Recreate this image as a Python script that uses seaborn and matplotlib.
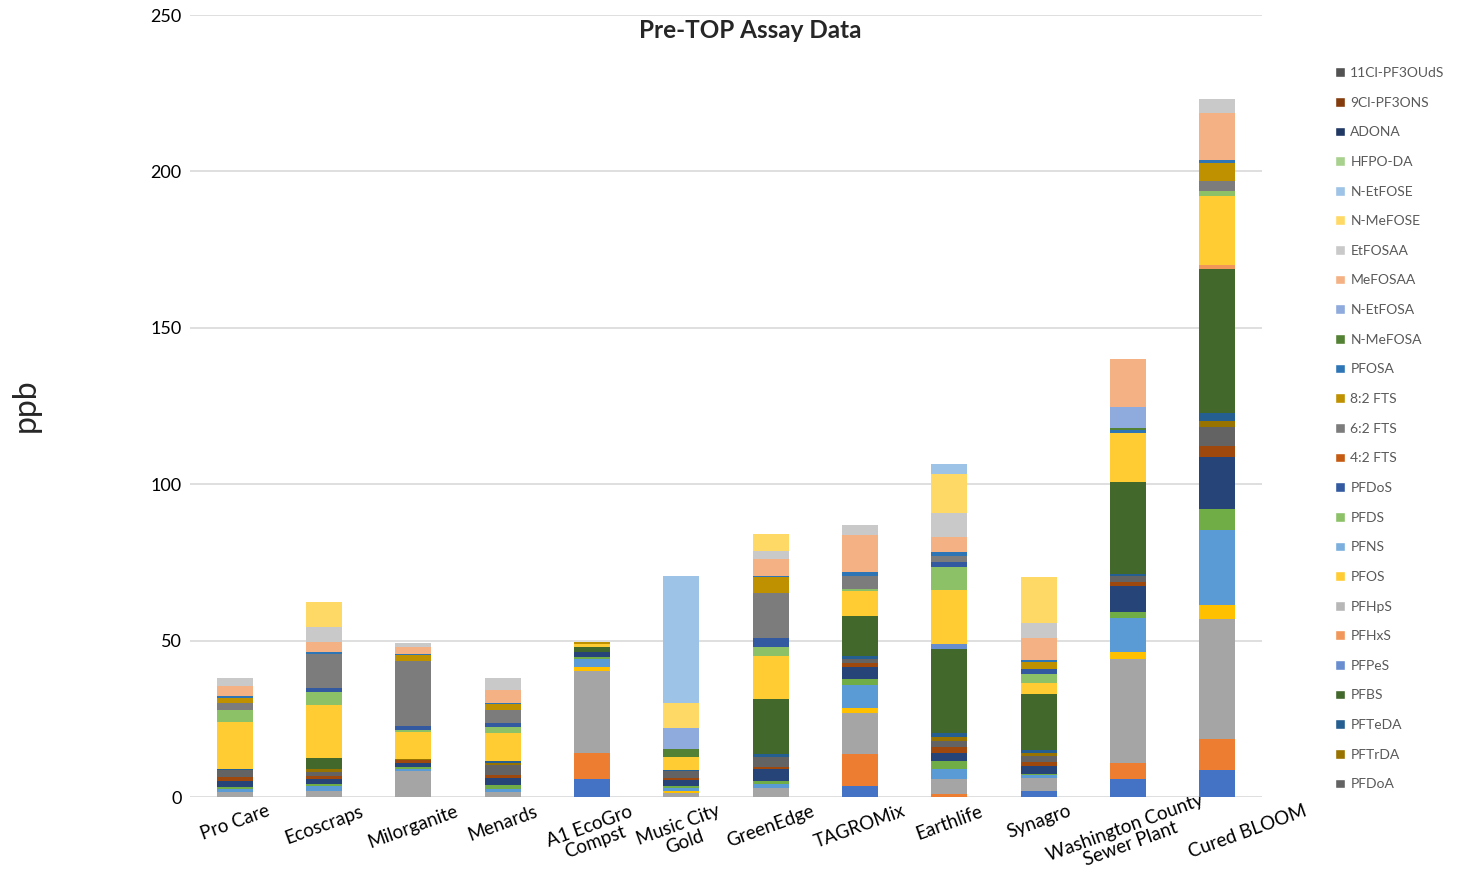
import pandas as pd
import seaborn as sns
import matplotlib.pyplot as plt
import matplotlib.transforms as mtransforms
from matplotlib.patches import Patch

# stacking order, bottom -> top (Excel series order)
compounds = ["PFBA", "PFPeA", "PFHxA", "PFHpA", "PFOA", "PFNA", "PFDA", "PFUnDA",
             "PFDoA", "PFTrDA", "PFTeDA", "PFBS", "PFPeS", "PFHxS", "PFHpS", "PFOS",
             "PFNS", "PFDS", "PFDoS", "4:2 FTS", "6:2 FTS", "8:2 FTS", "PFOSA",
             "N-MeFOSA", "N-EtFOSA", "MeFOSAA", "EtFOSAA", "N-MeFOSE", "N-EtFOSE",
             "HFPO-DA", "ADONA", "9Cl-PF3ONS", "11Cl-PF3OUdS"]

# excel office palette, cycled with shades
colors = ["#4472C4", "#ED7D31", "#A5A5A5", "#FFC000", "#5B9BD5", "#70AD47",
          "#264478", "#9E480E", "#636363", "#997300", "#255E91", "#43682B",
          "#698ED0", "#F1975A", "#B7B7B7", "#FFCD33", "#7CAFDD", "#8CC168",
          "#335AA1", "#C55A11", "#7C7C7C", "#BF9000", "#2E75B6", "#548235",
          "#8FAADC", "#F4B183", "#C9C9C9", "#FFD966", "#9DC3E6", "#A9D18E",
          "#203864", "#843C0C", "#525252"]

sites = ["Pro Care", "Ecoscraps", "Milorganite", "Menards", "A1 EcoGro\nCompst",
         "Music City\nGold", "GreenEdge", "TAGROMix", "Earthlife", "Synagro",
         "Washington County\nSewer Plant", "Cured BLOOM"]

# ppb values
pro_care = {"PFHxA": 1.5, "PFOA": 1.1, "PFNA": 0.6, "PFDA": 1.9, "PFUnDA": 1.3, "PFDoA": 2.1,
            "PFTeDA": 0.6, "PFOS": 14.9, "PFDS": 3.7, "6:2 FTS": 2.3, "8:2 FTS": 1.8,
            "PFOSA": 0.6, "MeFOSAA": 3.1, "EtFOSAA": 2.5}
ecoscraps = {"PFHxA": 1.9, "PFOA": 1.7, "PFNA": 0.6, "PFDA": 1.4, "PFUnDA": 1.0, "PFDoA": 1.5,
             "PFTrDA": 0.9, "PFBS": 3.5, "PFOS": 16.8, "PFDS": 4.3, "PFDoS": 1.4,
             "6:2 FTS": 10.8, "PFOSA": 0.7, "MeFOSAA": 3.2, "EtFOSAA": 4.6, "N-MeFOSE": 7.9}
milorganite = {"PFHxA": 8.3, "PFOA": 0.6, "PFNA": 0.6, "PFDA": 1.3, "PFUnDA": 0.9,
               "PFTrDA": 0.4, "PFOS": 8.7, "PFDS": 0.5, "PFDoS": 1.5, "6:2 FTS": 20.8,
               "8:2 FTS": 1.7, "PFOSA": 0.5, "MeFOSAA": 2.3, "EtFOSAA": 1.1}
menards = {"PFHxA": 1.7, "PFOA": 0.9, "PFNA": 1.2, "PFDA": 2.2, "PFUnDA": 1.1, "PFDoA": 3.0,
           "PFTrDA": 0.8, "PFTeDA": 0.7, "PFOS": 8.9, "PFDS": 1.8, "PFDoS": 1.2,
           "6:2 FTS": 4.3, "8:2 FTS": 1.8, "PFOSA": 0.5, "MeFOSAA": 4.1, "EtFOSAA": 3.7}
a1_ecogro = {"PFBA": 5.9, "PFPeA": 8.2, "PFHxA": 26.3, "PFHpA": 1.1, "PFOA": 2.6, "PFNA": 0.6,
             "PFDA": 1.5, "PFBS": 1.9, "PFOS": 0.9, "8:2 FTS": 0.4}
music_city = {"PFHxA": 1.4, "PFHpA": 0.5, "PFOA": 1.1, "PFNA": 0.4, "PFDA": 1.9, "PFUnDA": 0.9,
              "PFDoA": 2.0, "PFTeDA": 0.5, "PFOS": 4.1, "N-MeFOSA": 2.5, "N-EtFOSA": 6.6,
              "N-MeFOSE": 8.3, "N-EtFOSE": 40.5}
green_edge = {"PFHxA": 2.9, "PFOA": 1.4, "PFNA": 0.9, "PFDA": 3.6, "PFUnDA": 0.9, "PFDoA": 3.0,
              "PFTeDA": 0.9, "PFBS": 17.8, "PFOS": 13.6, "PFDS": 2.9, "PFDoS": 2.8,
              "6:2 FTS": 14.6, "8:2 FTS": 4.9, "PFOSA": 0.6, "MeFOSAA": 5.4, "EtFOSAA": 2.6,
              "N-MeFOSE": 5.3}
tagromix = {"PFBA": 3.5, "PFPeA": 10.4, "PFHxA": 13.0, "PFHpA": 1.4, "PFOA": 7.5, "PFNA": 1.8,
            "PFDA": 4.1, "PFUnDA": 1.1, "PFDoA": 1.3, "PFTeDA": 0.9, "PFBS": 12.8, "PFOS": 8.0,
            "PFDS": 0.7, "6:2 FTS": 4.3, "PFOSA": 1.2, "MeFOSAA": 11.6, "EtFOSAA": 3.5}
earthlife = {"PFPeA": 0.9, "PFHxA": 5.0, "PFOA": 2.9, "PFNA": 2.8, "PFDA": 2.4, "PFUnDA": 1.9,
             "PFDoA": 2.1, "PFTrDA": 1.3, "PFTeDA": 1.1, "PFBS": 27.0, "PFPeS": 1.6,
             "PFOS": 17.3, "PFDS": 7.2, "PFDoS": 1.6, "6:2 FTS": 2.1, "PFOSA": 1.1,
             "MeFOSAA": 4.8, "EtFOSAA": 7.6, "N-MeFOSE": 12.5, "N-EtFOSE": 3.2}
synagro = {"PFBA": 1.8, "PFHxA": 4.3, "PFOA": 0.9, "PFNA": 0.5, "PFDA": 2.5, "PFUnDA": 1.1,
           "PFDoA": 2.0, "PFTrDA": 1.1, "PFTeDA": 0.9, "PFBS": 17.8, "PFOS": 3.7, "PFDS": 2.7,
           "PFDoS": 1.6, "8:2 FTS": 2.2, "PFOSA": 0.7, "MeFOSAA": 6.9, "EtFOSAA": 5.0,
           "N-MeFOSE": 14.7}
washington = {"PFBA": 5.7, "PFPeA": 5.2, "PFHxA": 33.2, "PFHpA": 2.1, "PFOA": 11.1, "PFNA": 1.9,
              "PFDA": 8.3, "PFUnDA": 1.3, "PFDoA": 1.9, "PFTeDA": 0.7, "PFBS": 29.4,
              "PFOS": 15.7, "PFOSA": 0.9, "N-MeFOSA": 0.6, "N-EtFOSA": 6.8, "MeFOSAA": 15.1}
cured_bloom = {"PFBA": 8.5, "PFPeA": 9.9, "PFHxA": 38.5, "PFHpA": 4.5, "PFOA": 23.8, "PFNA": 6.9,
               "PFDA": 16.6, "PFUnDA": 3.6, "PFDoA": 6.0, "PFTrDA": 1.8, "PFTeDA": 2.7,
               "PFBS": 45.9, "PFHxS": 1.3, "PFOS": 22.0, "PFDS": 1.8, "6:2 FTS": 3.2,
               "8:2 FTS": 5.7, "PFOSA": 1.0, "MeFOSAA": 15.1, "EtFOSAA": 4.3}

site_data = [pro_care, ecoscraps, milorganite, menards, a1_ecogro, music_city, green_edge,
             tagromix, earthlife, synagro, washington, cured_bloom]

# long table with running totals for stacking
rows = []
for site, vals in zip(sites, site_data):
    total = 0
    for c in compounds:
        total += vals.get(c, 0)
        rows.append({"site": site, "compound": c, "cum": total})
df = pd.DataFrame(rows)

sns.set_theme(style="white")
plt.rcParams['font.family'] = ['Lato', 'DejaVu Sans']

fig = plt.figure(figsize=(14.57, 8.84), dpi=100)
ax = fig.add_axes([190 / 1457, 1 - 797 / 884, (1262 - 190) / 1457, (797 - 15) / 884])

# draw tallest running total first, each lower total on top of it
for c, col in reversed(list(zip(compounds, colors))):
    sns.barplot(data=df[df.compound == c], x="site", y="cum", order=sites, color=col,
                saturation=1, width=0.4, linewidth=0, errorbar=None, ax=ax)

ax.set_ylim(0, 250)
ax.set_xlim(-0.5, len(sites) - 0.5)
ax.set_yticks([0, 50, 100, 150, 200, 250])
ax.yaxis.grid(True, color="#D9D9D9", linewidth=1.2)
ax.set_axisbelow(True)
for s in ax.spines.values():
    s.set_visible(False)
ax.tick_params(axis="both", length=0, colors="black")
ax.tick_params(axis="y", pad=6, labelsize=13)
ax.set_xticks(range(len(sites)))
ax.set_xticklabels(sites, rotation=20, ha="center", va="top", multialignment="center",
                   fontsize=13.5, linespacing=1.05)
ax.tick_params(axis="x", pad=4)
ax.set_xlabel("")
ax.set_ylabel("")

labels = ax.get_xticklabels()
# long two-line label: place by its centre so it stays inside the figure
wash = labels[10]
wash.set_va("center")
wash.set_transform(wash.get_transform() + mtransforms.ScaledTranslation(0, -0.33, fig.dpi_scale_trans))
# last label sits a bit right of its bar, clear of the one before it
last = labels[-1]
last.set_transform(last.get_transform() + mtransforms.ScaledTranslation(0.3, 0, fig.dpi_scale_trans))

fig.text(26 / 1457, 1 - 405 / 884, "ppb", rotation=90, fontsize=23, ha="center", va="center")
ax.set_title("Pre-TOP Assay Data", fontsize=17.5, fontweight="bold", x=0.523, y=0.96)

# legend lists PFDoA .. 11Cl-PF3OUdS, top entry is last series
handles = [Patch(facecolor=col, label=c) for c, col in zip(compounds[8:], colors[8:])][::-1]
fig.legend(handles=handles, loc="upper left", bbox_to_anchor=(1335 / 1457, 1 - 67 / 884),
           frameon=False, fontsize=10, labelcolor="#595959", handlelength=0.7,
           handleheight=0.7, handletextpad=0.4, labelspacing=1.27, borderpad=0,
           borderaxespad=0)

fig.savefig("out.png", dpi=100)
